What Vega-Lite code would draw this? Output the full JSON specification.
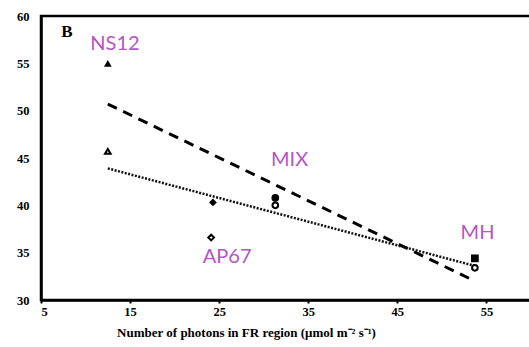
{
  "$schema": "https://vega.github.io/schema/vega-lite/v6.json",
  "width": 490,
  "height": 284,
  "autosize": "none",
  "padding": {"left": 41, "top": 16, "right": 0, "bottom": 47},
  "background": "white",
  "config": {
    "view": {"stroke": "black", "strokeWidth": 2.5},
    "axis": {"grid": false, "domainColor": "black", "domainWidth": 2.5}
  },
  "datasets": {
    "filled": [
      {"line": "NS12", "photons": 12.5, "value": 55.0},
      {"line": "AP67", "photons": 24.3, "value": 40.3},
      {"line": "MIX", "photons": 31.3, "value": 40.8},
      {"line": "MH", "photons": 53.7, "value": 34.4}
    ],
    "open": [
      {"line": "NS12", "photons": 12.5, "value": 45.7},
      {"line": "AP67", "photons": 24.1, "value": 36.6},
      {"line": "MIX", "photons": 31.3, "value": 40.0},
      {"line": "MH", "photons": 53.7, "value": 33.4}
    ],
    "fits": [
      {"fit": "filled", "photons": 12.5, "value": 50.7},
      {"fit": "filled", "photons": 53.7, "value": 32.0},
      {"fit": "open", "photons": 12.5, "value": 43.9},
      {"fit": "open", "photons": 53.7, "value": 33.6}
    ],
    "labels": [
      {"line": "NS12", "photons": 13.3, "value": 57.0},
      {"line": "MIX", "photons": 32.9, "value": 44.8},
      {"line": "AP67", "photons": 25.9, "value": 34.5},
      {"line": "MH", "photons": 54.0, "value": 37.1}
    ],
    "panel": [{"label": "B", "photons": 7.9, "value": 58.3}]
  },
  "layer": [
    {
      "data": {"name": "fits"},
      "transform": [{"filter": "datum.fit == 'filled'"}],
      "mark": {"type": "line", "color": "black", "strokeWidth": 3, "strokeDash": [10, 7]},
      "encoding": {
        "x": {
          "field": "photons", "type": "quantitative",
          "scale": {"domain": [5, 60], "nice": false},
          "axis": {
            "values": [5, 15, 25, 35, 45, 55],
            "title": "Number of photons in FR region (μmol  m⁻² s⁻¹)",
            "titleFont": "Liberation Serif", "titleFontSize": 13, "titleFontWeight": "bold",
            "titleColor": "black", "titleAlign": "center", "titleX": 205, "titlePadding": 9,
            "labelFont": "Liberation Serif", "labelFontSize": 12.5, "labelFontWeight": "bold",
            "labelColor": "black", "tickColor": "black", "tickSize": 3, "tickWidth": 2,
            "labelPadding": 2
          }
        },
        "y": {
          "field": "value", "type": "quantitative",
          "scale": {"domain": [30, 60], "nice": false},
          "axis": {
            "values": [30, 35, 40, 45, 50, 55, 60],
            "title": null, "ticks": false, "labelPadding": 12,
            "labelFont": "Liberation Serif", "labelFontSize": 12.5, "labelFontWeight": "bold",
            "labelColor": "black"
          }
        },
        "detail": {"field": "fit"}
      }
    },
    {
      "data": {"name": "fits"},
      "transform": [{"filter": "datum.fit == 'open'"}],
      "mark": {"type": "line", "color": "#111111", "strokeWidth": 2.5, "strokeDash": [2, 1.5]},
      "encoding": {
        "x": {"field": "photons", "type": "quantitative"},
        "y": {"field": "value", "type": "quantitative"}
      }
    },
    {
      "data": {"name": "filled"},
      "mark": {"type": "point", "filled": true, "color": "black", "opacity": 1},
      "encoding": {
        "x": {"field": "photons", "type": "quantitative"},
        "y": {"field": "value", "type": "quantitative"},
        "shape": {
          "field": "line", "type": "nominal", "legend": null,
          "scale": {"domain": ["NS12", "AP67", "MIX", "MH"], "range": ["triangle-up", "diamond", "circle", "square"]}
        },
        "size": {"value": 60}
      }
    },
    {
      "data": {"name": "open"},
      "mark": {"type": "point", "filled": false, "color": "black", "fill": "white", "fillOpacity": 1, "strokeWidth": 2, "opacity": 1},
      "encoding": {
        "x": {"field": "photons", "type": "quantitative"},
        "y": {"field": "value", "type": "quantitative"},
        "shape": {
          "field": "line", "type": "nominal", "legend": null,
          "scale": {"domain": ["NS12", "AP67", "MIX", "MH"], "range": ["triangle-up", "diamond", "circle", "circle"]}
        },
        "size": {"value": 32}
      }
    },
    {
      "data": {"name": "labels"},
      "mark": {"type": "text", "font": "Lato", "fontSize": 20, "color": "#b455c8", "align": "center", "baseline": "middle"},
      "encoding": {
        "x": {"field": "photons", "type": "quantitative"},
        "y": {"field": "value", "type": "quantitative"},
        "text": {"field": "line"}
      }
    },
    {
      "data": {"name": "panel"},
      "mark": {"type": "text", "font": "Liberation Serif", "fontSize": 17, "fontWeight": "bold", "color": "black", "align": "center", "baseline": "middle"},
      "encoding": {
        "x": {"field": "photons", "type": "quantitative"},
        "y": {"field": "value", "type": "quantitative"},
        "text": {"field": "label"}
      }
    }
  ],
  "resolve": {"scale": {"shape": "independent"}}
}
